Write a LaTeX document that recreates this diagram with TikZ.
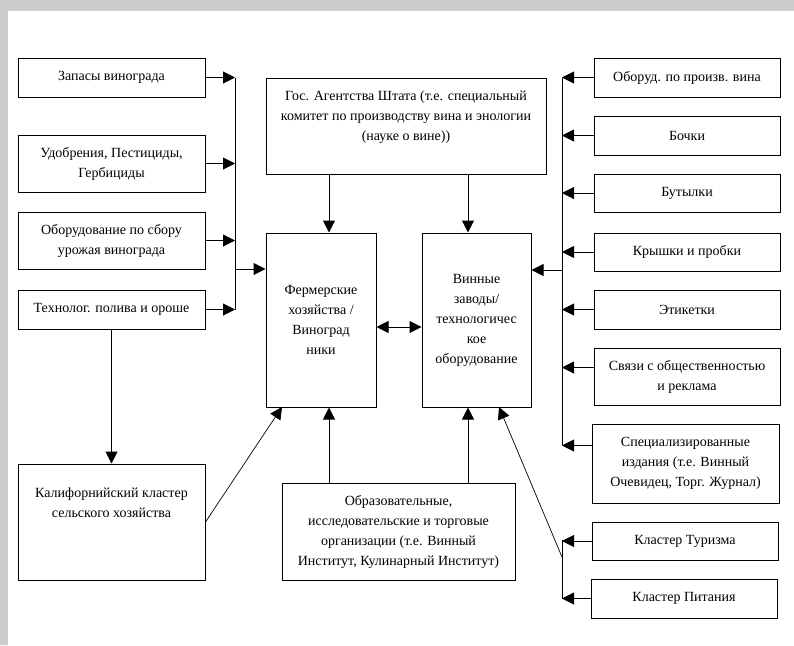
\documentclass[tikz,border=0pt]{standalone}
\usepackage{fontspec}
\setmainfont{Liberation Serif}
\usetikzlibrary{arrows.meta}

\begin{document}
\begin{tikzpicture}[x=1pt,y=-1pt,
    box/.style={draw,line width=1pt,inner sep=0pt,align=center,font=\fontsize{14}{20}\selectfont},
    arr/.style={line width=1pt,-{Triangle[length=12pt,width=12pt]}},
    arrs/.style={line width=1pt,{Triangle[length=12pt,width=12pt]}-{Triangle[length=12pt,width=12pt]}}]
            \useasboundingbox (0,0) rectangle (794,645);
            \fill[gray!40] (0,0) rectangle (794,645);
            \fill[white] (8,11) rectangle (794,645);

            \node (zap) at (111.5,77.5) [box,minimum width=187pt,minimum height=39pt] {Запасы винограда};
            \node (udo) at (111.5,163.5) [box,minimum width=187pt,minimum height=57pt] {Удобрения, Пестициды,\\Гербициды};
            \node (obs) at (111.5,240.5) [box,minimum width=187pt,minimum height=57pt] {Оборудование по сбору\\урожая винограда};
            \node (tex) at (111.5,309.5) [box,minimum width=187pt,minimum height=39pt] {Технолог. полива и ороше};
            \node (kal) at (111.5,522) [box,minimum width=187pt,minimum height=116pt] {Калифорнийский кластер\\сельского хозяйства\\[18pt]};

            \node (gov) at (406,126) [box,minimum width=280pt,minimum height=96pt] {};
            \node[font=\fontsize{14}{20}\selectfont,align=center] at (gov.center) [yshift=9pt] {Гос. Агентства Штата (т.е. специальный\\комитет по производству вина и энологии\\(науке о вине))};
            \node (farm) at (321,320) [box,minimum width=110pt,minimum height=174pt] {Фермерские\\хозяйства /\\Виноград\\ники};
            \node (win) at (476.5,320) [box,minimum width=109pt,minimum height=174pt] {Винные\\заводы/\\технологичес\\кое\\оборудование};
            \node (edu) at (398.5,531.5) [box,minimum width=233pt,minimum height=97pt] {Образовательные,\\исследовательские и торговые\\организации (т.е. Винный\\Институт, Кулинарный Институт)};

            \node (obr) at (687,77.5) [box,minimum width=186pt,minimum height=39pt] {Оборуд. по произв. вина};
            \node (boc) at (687,135.5) [box,minimum width=186pt,minimum height=39pt] {Бочки};
            \node (but) at (687,193) [box,minimum width=186pt,minimum height=38pt] {Бутылки};
            \node (kry) at (687,252) [box,minimum width=186pt,minimum height=38pt] {Крышки и пробки};
            \node (eti) at (687,309.5) [box,minimum width=186pt,minimum height=39pt] {Этикетки};
            \node (svy) at (687,376.5) [box,minimum width=186pt,minimum height=57pt] {Связи с общественностью\\и реклама};
            \node (spe) at (685.5,463.5) [box,minimum width=187pt,minimum height=79pt] {Специализированные\\издания (т.е. Винный\\Очевидец, Торг. Журнал)};
            \node (tur) at (685,541) [box,minimum width=186pt,minimum height=38pt] {Кластер Туризма};
            \node (pit) at (684,598.5) [box,minimum width=186pt,minimum height=39pt] {Кластер Питания};

            \coordinate (lt) at (235,77.5);
            \coordinate (lb) at (235,309.5);
            \coordinate (lm) at (235,269);
            \coordinate (rt) at (562,77.5);
            \coordinate (rb) at (562,445);
            \coordinate (rm) at (562,270);
            \coordinate (bt) at (562,540);
            \coordinate (bb) at (562,598.5);
            \coordinate (bm) at (562,557);
            \coordinate (c1) at (329,0);
            \coordinate (c2) at (468,0);
            \coordinate (f1) at (282,407);
            \coordinate (w1) at (499,407);

            \draw[line width=1pt] (lt) -- (lb);
            \draw[arr] (zap) -- (zap -| lt);
            \draw[arr] (udo) -- (udo -| lt);
            \draw[arr] (obs) -- (obs -| lt);
            \draw[arr] (tex) -- (tex -| lt);
            \draw[arr] (lm) -- (lm -| farm.west);
            \draw[arr] (tex) -- (kal);
            \draw[arr,line width=0.7pt] (kal.east) -- (f1);

            \draw[arr] (gov.south -| c1) -- (farm.north -| c1);
            \draw[arr] (gov.south -| c2) -- (win.north -| c2);
            \draw[arr] (edu.north -| c1) -- (farm.south -| c1);
            \draw[arr] (edu.north -| c2) -- (win.south -| c2);
            \draw[arrs] ([yshift=-7pt]farm.east) -- ([yshift=-7pt]win.west);

            \draw[line width=1pt] (rt) -- (rb);
            \draw[arr] (obr) -- (obr -| rt);
            \draw[arr] (boc) -- (boc -| rt);
            \draw[arr] (but) -- (but -| rt);
            \draw[arr] (kry) -- (kry -| rt);
            \draw[arr] (eti) -- (eti -| rt);
            \draw[arr] ([yshift=9pt]svy.west) -- ([yshift=9pt]svy.west -| rt);
            \draw[arr] ([yshift=18pt]spe.west) -- ([yshift=18pt]spe.west -| rt);
            \draw[arr] (rm) -- (rm -| win.east);

            \draw[line width=1pt] (bt) -- (bb);
            \draw[arr] (tur) -- (tur -| bt);
            \draw[arr] (pit) -- (pit -| bt);
            \draw[arr,line width=0.7pt] (bm) -- (w1);
\end{tikzpicture}
\end{document}
